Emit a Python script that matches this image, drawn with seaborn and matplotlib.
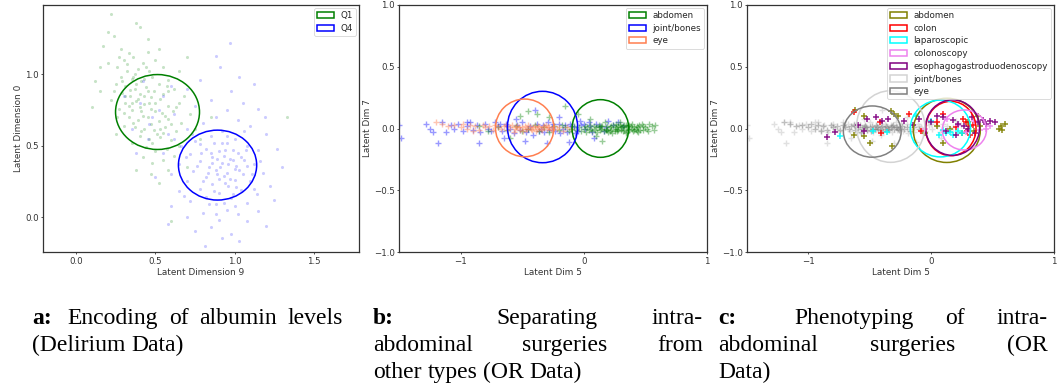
import matplotlib
matplotlib.use("Agg")
import matplotlib.pyplot as plt
from matplotlib.patches import Ellipse
import seaborn as sns
import pandas as pd

# ---------------- data ----------------
# Panel a: latent dims 9 (x) / 0 (y)
Q1_POINTS = [(0.22,1.42),(0.38,1.36),(0.20,1.30),(0.24,1.27),(0.40,1.33),(0.52,1.18),(0.17,1.20),(0.28,1.18),(0.33,1.15),(0.45,1.16),
 (0.30,1.10),(0.36,1.12),(0.42,1.08),(0.26,1.05),(0.50,1.10),(0.55,1.05),(0.20,1.08),(0.32,1.02),(0.39,1.04),(0.46,1.02),
 (0.28,0.98),(0.35,0.97),(0.41,0.95),(0.48,0.98),(0.58,0.96),(0.25,0.93),(0.31,0.92),(0.37,0.90),(0.44,0.91),(0.52,0.93),
 (0.62,0.90),(0.15,0.88),(0.29,0.87),(0.34,0.85),(0.40,0.86),(0.47,0.84),(0.55,0.86),(0.68,0.85),(0.22,0.82),(0.31,0.80),
 (0.38,0.81),(0.43,0.79),(0.50,0.80),(0.58,0.78),(0.65,0.80),(0.27,0.76),(0.35,0.75),(0.41,0.74),(0.47,0.76),(0.54,0.73),
 (0.61,0.74),(0.72,0.72),(0.10,0.77),(0.33,0.70),(0.39,0.68),(0.45,0.70),(0.52,0.67),(0.58,0.69),(0.66,0.66),(0.30,0.64),
 (0.37,0.63),(0.43,0.62),(0.49,0.61),(0.56,0.63),(0.63,0.60),(0.75,0.62),(0.25,0.58),(0.40,0.57),(0.46,0.55),(0.53,0.56),
 (0.60,0.54),(0.35,0.52),(0.44,0.49),(0.50,0.46),(0.57,0.48),(0.65,0.50),(0.42,0.42),(0.48,0.38),(0.55,0.40),(0.62,0.43),
 (0.38,0.33),(0.47,0.30),(0.58,0.33),(0.52,0.24),(0.70,0.35),(0.60,-0.03),(0.85,0.70),(1.33,0.70),(0.78,0.55),(0.15,1.05),
 (0.12,0.95),(0.65,1.02),(0.70,1.12),(0.45,1.25),(0.58,0.88),(0.36,0.98),(0.26,0.70),(0.49,0.88),(0.53,0.62),(0.43,0.85),
 (0.32,1.07),(0.37,1.00),(0.29,0.95),(0.43,0.97),(0.34,0.89),(0.39,0.83),(0.46,0.80),(0.33,0.78),(0.42,0.71),(0.50,0.74),
 (0.36,0.66),(0.47,0.65),(0.55,0.59),(0.41,0.60),(0.30,0.73),(0.24,0.88),(0.53,0.83),(0.60,0.65),(0.48,0.52),(0.38,0.93),
 (0.27,1.12),(0.44,1.05),(0.56,0.71),(0.35,0.80),(0.51,0.58),(0.40,0.77),(0.45,0.88),(0.31,0.85),(0.63,0.77),(0.57,0.92)]
Q4_POINTS = [(0.88,1.13),(0.91,1.05),(1.03,0.98),(0.78,0.96),(1.12,0.93),(0.70,0.90),(0.98,0.88),(0.55,0.85),(0.85,0.82),(1.05,0.80),
 (0.40,0.80),(0.75,0.78),(0.95,0.75),(1.15,0.76),(0.62,0.72),(0.88,0.70),(1.02,0.68),(0.48,0.70),(0.80,0.66),(1.10,0.64),
 (0.70,0.62),(0.92,0.60),(1.20,0.58),(0.58,0.58),(0.85,0.57),(1.00,0.55),(0.75,0.53),(0.95,0.52),(1.08,0.50),(0.66,0.50),
 (0.82,0.48),(0.90,0.46),(1.02,0.45),(1.15,0.47),(0.55,0.45),(0.72,0.44),(0.86,0.42),(0.97,0.41),(1.06,0.40),(0.78,0.39),
 (0.92,0.38),(1.12,0.37),(0.65,0.37),(0.84,0.35),(1.00,0.34),(0.88,0.33),(0.95,0.31),(1.05,0.30),(0.74,0.32),(1.18,0.31),
 (0.60,0.30),(0.82,0.28),(0.90,0.27),(1.00,0.26),(1.10,0.25),(0.70,0.25),(0.86,0.23),(0.96,0.22),(1.22,0.22),(0.78,0.20),
 (1.04,0.19),(0.65,0.18),(0.90,0.17),(1.14,0.16),(0.82,0.14),(0.98,0.13),(0.72,0.11),(1.08,0.10),(0.88,0.09),(1.25,0.12),
 (0.60,0.08),(0.95,0.05),(0.80,0.03),(1.02,0.02),(1.15,0.04),(0.70,0.00),(0.90,-0.02),(1.08,-0.03),(0.85,-0.07),(1.20,-0.06),
 (0.75,-0.10),(0.98,-0.12),(0.58,-0.05),(0.92,-0.15),(1.03,-0.17),(0.81,-0.20),(1.30,0.35),(1.27,0.48),(0.45,0.55),(0.50,0.28),
 (0.35,0.62),(0.42,0.95),(0.30,0.85),(0.38,0.45),(0.52,0.75),(0.60,0.92),(0.97,1.22),(0.68,0.15),(1.19,0.70),(0.46,0.65),
 (0.93,0.43),(0.87,0.52),(1.01,0.36),(0.79,0.45),(0.94,0.24),(1.06,0.60),(0.84,0.09),(0.73,0.58),(0.99,0.47),(0.89,0.30),
 (0.91,0.35),(0.96,0.37),(1.03,0.33),(0.86,0.38),(0.93,0.29),(0.99,0.40),(1.08,0.36),(0.83,0.31),(0.97,0.27),(1.04,0.42),
 (0.89,0.41),(0.94,0.47),(1.01,0.21),(0.87,0.18),(0.80,0.25),(1.11,0.30),(0.76,0.36),(1.07,0.47),(0.92,0.52),(0.85,0.45),
 (0.99,0.16),(0.93,0.10),(1.12,0.20),(0.69,0.42),(0.78,0.51),(1.16,0.39),(0.95,0.57),(0.62,0.55),(1.00,0.08),(0.88,0.02)]
A_LABELS = ["Q1", "Q4"]
A_ELLIPSES = [((0.513, 0.736), 0.53, 0.525), ((0.892, 0.364), 0.494, 0.49)]

# Panel b / c: latent dims 5 (x) / 7 (y)
ABDOMEN_POINTS = [(0.50,0.01),(0.55,0.02),(0.58,0.03),(0.48,-0.01),(0.45,0.03),(0.42,0.00),(0.40,-0.02),(0.38,0.02),(0.36,0.00),(0.35,-0.03),
 (0.33,0.03),(0.31,0.01),(0.30,-0.01),(0.28,0.02),(0.27,-0.02),(0.25,0.00),(0.24,0.03),(0.22,-0.01),(0.21,0.01),(0.20,-0.03),
 (0.19,0.02),(0.18,0.00),(0.16,-0.02),(0.15,0.02),(0.14,0.00),(0.13,-0.01),(0.12,0.03),(0.11,-0.03),(0.10,0.01),(0.09,-0.01),
 (0.08,0.02),(0.07,-0.02),(0.06,0.00),(0.05,0.03),(0.04,-0.01),(0.03,0.01),(0.02,-0.03),(0.01,0.02),(0.00,0.00),(-0.02,-0.02),
 (-0.04,0.01),(-0.06,-0.01),(-0.08,0.02),(-0.10,0.00),(-0.12,-0.02),(-0.15,0.01),(-0.18,0.03),(-0.20,-0.01),(-0.24,0.02),(-0.28,-0.03),
 (-0.32,0.01),(-0.36,-0.02),(-0.40,0.03),(-0.45,0.00),(-0.50,-0.02),(-0.55,0.02),(-0.62,-0.01),(-0.70,0.01),(-0.78,-0.02),(-0.85,0.02),
 (-0.45,0.14),(-0.52,0.10),(-0.38,0.12),(-0.28,0.09),(-0.15,0.18),(-0.05,0.12),(0.15,-0.10),(0.10,-0.06),(-0.60,-0.08),(0.05,0.08),
 (0.26,0.04),(0.34,-0.04),(0.44,-0.03),(0.52,-0.02),(0.47,0.04),(0.39,0.04),(0.29,0.05),(0.17,0.05),(0.23,-0.04),(0.32,0.02),
 (0.41,0.01),(0.37,-0.01),(0.26,0.01),(0.19,-0.01),(0.12,0.01),(0.57,-0.01),(0.53,0.04),(0.46,-0.01),(0.34,0.03),(0.43,0.02),
 (0.36,0.02),(0.30,0.01),(0.27,0.00),(0.33,-0.01),(0.39,0.00),(0.44,0.01),(0.22,0.02),(0.18,-0.01),(0.25,-0.02),(0.41,-0.01),
 (0.48,0.02),(0.32,-0.02),(0.29,0.03),(0.37,0.03),(0.21,-0.02),(0.14,0.02),(0.51,0.00),(0.35,0.01),(0.43,-0.02),(0.28,-0.01)]
EYE_POINTS = [(-1.15,0.04),(-1.10,0.02),(-1.05,0.03),(-1.00,0.01),(-0.98,0.04),(-0.95,0.00),(-0.92,0.03),(-0.88,0.02),(-0.85,-0.01),(-0.82,0.03),
 (-0.80,0.01),(-0.77,0.02),(-0.74,-0.01),(-0.72,0.03),(-0.70,0.01),(-0.67,0.00),(-0.65,0.02),(-0.62,-0.01),(-0.60,0.01),(-0.58,0.03),
 (-0.56,0.00),(-0.54,0.02),(-0.52,-0.01),(-0.50,0.01),(-0.48,0.02),(-0.46,0.00),(-0.44,0.01),(-0.42,-0.01),(-0.40,0.02),(-0.38,0.00),
 (-0.36,0.01),(-0.34,-0.01),(-0.32,0.02),(-0.30,0.00),(-0.28,0.01),(-0.26,-0.01),(-0.24,0.02),(-0.22,0.00),(-0.20,0.01),(-0.17,-0.02),
 (-0.14,0.01),(-0.10,0.00),(-0.55,0.01),(-0.47,0.00),(-0.41,0.01),(-0.35,0.00),(-0.29,0.01),(-0.49,-0.02),(-0.39,-0.02),(-0.31,0.03),
 (-0.63,0.03),(-0.57,-0.03),(-0.45,0.03),(-0.90,-0.02),(-1.20,0.05),(-0.33,0.01),(-0.43,0.00),(-0.53,0.01),(-0.37,0.02),(-0.27,0.00)]
JOINT_POINTS = [(-1.50,0.03),(-1.48,-0.08),(-1.28,0.04),(-1.25,0.00),(-1.22,-0.03),(-1.18,-0.12),(-1.15,0.05),(-1.12,-0.03),(-1.08,0.03),(-1.05,0.00),
 (-1.02,0.04),(-0.98,-0.02),(-0.95,0.02),(-0.92,0.05),(-0.90,-0.01),(-0.87,0.03),(-0.84,-0.03),(-0.80,0.04),(-0.78,0.00),(-0.75,-0.02),
 (-0.72,0.05),(-0.70,0.02),(-0.66,-0.02),(-0.63,0.04),(-0.60,0.00),(-0.57,-0.04),(-0.54,0.03),(-0.50,0.05),(-0.47,-0.03),(-0.44,0.02),
 (-0.41,-0.05),(-0.38,0.04),(-0.35,0.00),(-0.32,-0.03),(-0.29,0.05),(-0.26,0.01),(-0.23,-0.02),(-0.20,0.04),(-0.17,0.00),(-0.14,-0.03),
 (-0.11,0.04),(-0.08,0.01),(-0.05,-0.02),(-0.02,0.03),(0.01,0.00),(0.04,0.05),(0.07,-0.03),(0.10,0.04),(0.13,0.02),(0.16,-0.02),
 (0.20,0.06),(0.24,0.03),(0.28,0.05),(0.32,0.02),(-0.85,-0.12),(-0.65,-0.08),(-0.48,-0.10),(-0.30,-0.12),(-0.12,-0.11),(0.08,-0.08),
 (-0.40,0.15),(-0.20,0.09),(-0.55,0.08),(-0.03,0.06),(-0.25,0.04),(-0.15,0.03),(-0.07,-0.04),(0.00,0.04),(-0.33,0.03),(-0.45,0.00),
 (-0.62,0.02),(-0.52,-0.01),(-0.36,-0.02),(-0.10,0.02),(0.05,0.02),(0.18,0.01),(-0.19,-0.04),(-0.28,-0.01),(-0.68,0.04),(-0.95,0.05)]
B_LABELS = ["abdomen", "joint/bones", "eye"]
B_ELLIPSES = [((0.135, 0.0), 0.46, 0.467), ((-0.335, 0.012), 0.57, 0.578), ((-0.48, 0.005), 0.474, 0.467)]

C_ABDOMEN = [(-0.62,0.15),(-0.55,0.10),(-0.33,0.14),(-0.30,0.12),(-0.27,0.10),(-0.55,-0.06),(-0.50,-0.12),(-0.32,-0.14),(-0.63,-0.05),
 (0.10,-0.12),(0.35,-0.02),(0.40,0.02),(0.55,0.00),(0.58,-0.01),(0.60,0.04),(0.57,0.02),(0.30,0.05),(0.25,-0.04),(0.38,0.10),
 (0.15,0.00),(0.05,0.02),(-0.05,-0.04)]
C_COLON = [(-0.63,0.13),(-0.42,0.05),(-0.41,-0.04),(-0.18,0.12),(-0.08,-0.02),(0.10,0.12),(0.20,0.01),(0.28,0.05),(0.29,-0.02),
 (0.31,0.02),(0.32,-0.05),(0.26,0.08),(0.34,0.03),(0.05,0.05)]
C_LAPAROSCOPIC = [(-0.74,-0.06),(-0.47,-0.02),(-0.36,-0.03),(-0.12,0.10),(0.00,0.06),(0.15,-0.03),(0.18,-0.05),(0.22,-0.02),
 (0.25,-0.04),(0.10,-0.01),(0.12,-0.04),(0.06,-0.05)]
C_COLONOSCOPY = [(-0.05,0.00),(0.13,0.08),(0.35,0.06),(0.40,-0.01),(0.45,0.00),(0.48,0.02),(0.28,-0.03),(0.22,0.03)]
C_EGD = [(-0.85,-0.07),(-0.78,-0.03),(-0.60,0.03),(-0.52,0.08),(-0.45,0.09),(-0.40,0.06),(-0.35,0.08),(-0.22,0.06),(-0.15,0.03),
 (-0.10,0.08),(0.00,0.05),(0.05,0.10),(0.10,0.09),(0.18,0.07),(0.22,0.04),(0.27,0.02),(0.33,0.09),(0.38,0.05),(0.42,0.07),
 (0.48,0.06),(0.52,0.05),(0.45,0.04),(0.36,-0.04),(0.20,-0.05),(0.12,-0.02),(-0.55,-0.02),(0.30,0.00)]
C_LABELS = ["abdomen", "colon", "laparoscopic", "colonoscopy", "esophagogastroduodenoscopy", "joint/bones", "eye"]
C_ELLIPSES = [((0.127, -0.015), 0.545, 0.52), ((0.16, 0.0), 0.41, 0.44), ((0.075, 0.0), 0.49, 0.46),
              ((0.27, -0.012), 0.36, 0.324), ((0.174, 0.007), 0.44, 0.45), ((-0.33, 0.016), 0.556, 0.58),
              ((-0.48, -0.025), 0.47, 0.415)]

A_TICKS_X = [0.0, 0.5, 1.0, 1.5]
A_TICKS_Y = [0.0, 0.5, 1.0]
BC_TICKS_X = [-1, 0, 1]
BC_TICKS_Y = [-1.0, -0.5, 0.0, 0.5, 1.0]

# ---------------- styling ----------------
sns.set_theme(style="ticks")
plt.rcParams["font.family"] = ["DejaVu Sans"]
plt.rcParams.update({
    "axes.edgecolor": "#333333", "axes.linewidth": 0.9,
    "xtick.major.size": 1.6, "ytick.major.size": 1.6,
    "xtick.major.width": 0.6, "ytick.major.width": 0.6,
    "xtick.color": "#333333", "ytick.color": "#333333",
    "xtick.labelsize": 6.2, "ytick.labelsize": 6.2,
    "axes.labelsize": 6.4, "axes.labelcolor": "#333333",
    "xtick.major.pad": 2.0, "ytick.major.pad": 1.5,
    "axes.labelpad": 1.5,
})

W, H = 1063, 385
fig = plt.figure(figsize=(W / 100, H / 100), dpi=100)


def ax_at(left, right, top, bottom):
    return fig.add_axes([left / W, (H - bottom) / H, (right - left) / W, (bottom - top) / H])


def pts_df(points):
    return pd.DataFrame(points, columns=["x", "y"])


def add_ellipses(ax, ells, colors, labels):
    handles = []
    for (c, w, h), col, lab in zip(ells, colors, labels):
        e = Ellipse(c, w, h, fill=False, edgecolor=col, linewidth=1.1, label=lab)
        ax.add_patch(e)
        handles.append(e)
    leg = ax.legend(handles=handles, loc="upper right", fontsize=6.3, frameon=True,
                    borderaxespad=0.35, handlelength=2.0, handletextpad=0.7,
                    labelspacing=0.42, borderpad=0.35)
    leg.get_frame().set_edgecolor("#cccccc")
    leg.get_frame().set_linewidth(0.6)


# ---- panel a ----
ax_a = ax_at(43, 359, 5, 252)
sns.scatterplot(data=pts_df(Q1_POINTS), x="x", y="y", ax=ax_a, color="green", s=5,
                alpha=0.22, linewidth=0, marker="o", legend=False)
sns.scatterplot(data=pts_df(Q4_POINTS), x="x", y="y", ax=ax_a, color="blue", s=5,
                alpha=0.2, linewidth=0, marker="o", legend=False)
add_ellipses(ax_a, A_ELLIPSES, ["green", "blue"], A_LABELS)
ax_a.set_xlim(-0.21, 1.785)
ax_a.set_ylim(-0.245, 1.486)
ax_a.set_xticks(A_TICKS_X)
ax_a.set_yticks(A_TICKS_Y)
ax_a.set_xlabel("Latent Dimension 9")
ax_a.set_ylabel("Latent Dimension 0")

# ---- panel b ----
ax_b = ax_at(399, 707, 5, 252)
b_colors = ["green", "blue", "coral"]
for pts, col, al in [(JOINT_POINTS, "blue", 0.4), (ABDOMEN_POINTS, "green", 0.4), (EYE_POINTS, "coral", 0.45)]:
    sns.scatterplot(data=pts_df(pts), x="x", y="y", ax=ax_b, color=col, s=16, alpha=al,
                    marker="+", linewidth=1.0, legend=False)
add_ellipses(ax_b, B_ELLIPSES, b_colors, B_LABELS)
ax_b.set_xlim(-1.5, 1.0)
ax_b.set_ylim(-1.0, 1.0)
ax_b.set_xticks(BC_TICKS_X)
ax_b.set_yticks(BC_TICKS_Y)
ax_b.set_xlabel("Latent Dim 5")
ax_b.set_ylabel("Latent Dim 7")

# ---- panel c ----
ax_c = ax_at(747, 1054, 5, 252)
c_colors = ["olive", "red", "cyan", "violet", "purple", "lightgray", "gray"]
sns.scatterplot(data=pts_df(JOINT_POINTS), x="x", y="y", ax=ax_c, color="lightgray", s=20,
                alpha=0.7, marker="+", linewidth=1.0, legend=False)
sns.scatterplot(data=pts_df(EYE_POINTS), x="x", y="y", ax=ax_c, color="gray", s=20,
                alpha=0.5, marker="+", linewidth=1.0, legend=False)
for pts, col in [(C_ABDOMEN, "olive"), (C_COLON, "red"), (C_LAPAROSCOPIC, "cyan"),
                 (C_COLONOSCOPY, "violet"), (C_EGD, "purple")]:
    sns.scatterplot(data=pts_df(pts), x="x", y="y", ax=ax_c, color=col, s=16, alpha=0.9,
                    marker="+", linewidth=1.1, legend=False)
add_ellipses(ax_c, C_ELLIPSES, c_colors, C_LABELS)
ax_c.set_xlim(-1.5, 1.0)
ax_c.set_ylim(-1.0, 1.0)
ax_c.set_xticks(BC_TICKS_X)
ax_c.set_yticks(BC_TICKS_Y)
ax_c.set_xlabel("Latent Dim 5")
ax_c.set_ylabel("Latent Dim 7")

for ax in (ax_a, ax_b, ax_c):
    for sp in ax.spines.values():
        sp.set_visible(True)

# ---- captions (justified lines, TeX-like extra stretch after the colon) ----
CAP_FONT = "Liberation Serif"
CAP_SIZE = 17
fig.canvas.draw()
renderer = fig.canvas.get_renderer()

_sp1 = fig.text(0, 0, "a a", fontsize=CAP_SIZE, family=CAP_FONT)
_sp2 = fig.text(0, 0, "aa", fontsize=CAP_SIZE, family=CAP_FONT)
SPACE = _sp1.get_window_extent(renderer).width - _sp2.get_window_extent(renderer).width
_sp1.remove(); _sp2.remove()


def cap_line(words, x0, baseline, x1=None, bold_first=False):
    texts = []
    for i, w in enumerate(words):
        t = fig.text(0, 0, w, fontsize=CAP_SIZE, family=CAP_FONT,
                     weight="bold" if (bold_first and i == 0) else "normal",
                     va="baseline", ha="left", color="black")
        texts.append(t)
    widths = [t.get_window_extent(renderer).width for t in texts]
    n = len(words) - 1
    if x1 is None or n == 0:
        gaps = [SPACE] * n
    else:
        weights = [2.0 if (bold_first and i == 0) else 1.0 for i in range(n)]
        extra = (x1 - x0 - sum(widths) - n * SPACE) / sum(weights)
        gaps = [SPACE + wt * extra for wt in weights]
    x = x0
    for i, (t, w) in enumerate(zip(texts, widths)):
        t.set_position((x / W, (H - baseline) / H))
        if i < n:
            x += w + gaps[i]


L1, L2, L3 = 324, 351, 378
cap_line(["a:", "Encoding", "of", "albumin", "levels"], 32, L1, 343, bold_first=True)
cap_line(["(Delirium", "Data)"], 32, L2)
cap_line(["b:", "Separating", "intra-"], 373, L1, 703, bold_first=True)
cap_line(["abdominal", "surgeries", "from"], 373, L2, 703)
cap_line(["other", "types", "(OR", "Data)"], 373, L3)
cap_line(["c:", "Phenotyping", "of", "intra-"], 718, L1, 1048, bold_first=True)
cap_line(["abdominal", "surgeries", "(OR"], 718, L2, 1048)
cap_line(["Data)"], 718, L3)

fig.savefig("out.png", dpi=100)
